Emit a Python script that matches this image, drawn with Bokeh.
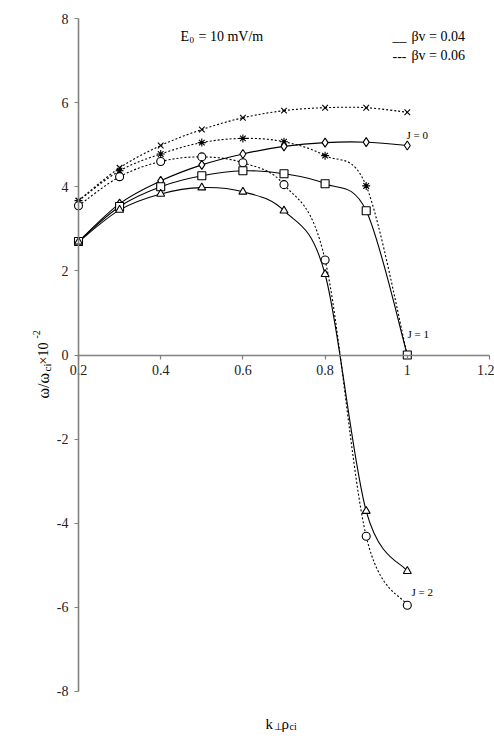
import numpy as np
from bokeh.plotting import figure
from bokeh.models import Label, FixedTicker, ColumnDataSource
from bokeh.embed import file_html
from bokeh.resources import INLINE

# ---------------- data ----------------
k_perp = [0.2, 0.3, 0.4, 0.5, 0.6, 0.7, 0.8, 0.9, 1.0]
# beta_v = 0.04 (solid)
j0_bv004 = [2.70, 3.60, 4.14, 4.52, 4.78, 4.96, 5.05, 5.06, 4.98]
j1_bv004 = [2.70, 3.53, 4.00, 4.26, 4.38, 4.31, 4.07, 3.43, 0.0]
j2_bv004 = [2.69, 3.45, 3.83, 3.98, 3.88, 3.43, 1.92, -3.71, -5.14]
# beta_v = 0.06 (dotted)
j0_bv006 = [3.67, 4.45, 4.98, 5.36, 5.64, 5.81, 5.88, 5.88, 5.77]
j1_bv006 = [3.67, 4.38, 4.78, 5.05, 5.15, 5.07, 4.74, 4.02, 0.0]
j2_bv006 = [3.55, 4.24, 4.60, 4.71, 4.57, 4.05, 2.26, -4.31, -5.95]

x_ticks = [0.2, 0.4, 0.6, 0.8, 1.0, 1.2]
x_tick_labels = ["0.2", "0.4", "0.6", "0.8", "1", "1.2"]
y_ticks = [-8, -6, -4, -2, 0, 2, 4, 6, 8]
y_tick_labels = ["-8", "-6", "-4", "-2", "0", "2", "4", "6", "8"]

FONT = "Liberation Serif"

W, H = 494, 738
SX = 411.0      # px per x unit
SY = 42.06      # px per y unit
X0 = 0.2 - 78 / SX
X1 = X0 + W / SX
Y1 = 354.5 / SY
Y0 = Y1 - H / SY

p = figure(width=W, height=H, x_range=(X0, X1), y_range=(Y0, Y1),
           output_backend="svg", toolbar_location=None, min_border=0)
p.outline_line_color = None
p.grid.grid_line_color = None
p.background_fill_color = "white"
p.border_fill_color = "white"

for ax in (p.xaxis[0], p.yaxis[0]):
    ax.axis_line_color = "#808080"
    ax.axis_line_width = 1.6
    ax.major_tick_line_color = "#808080"
    ax.major_tick_line_width = 1.2
    ax.major_tick_out = 4
    ax.major_tick_in = 0
    ax.minor_tick_line_color = None
    ax.major_label_text_font = FONT
    ax.major_label_text_font_size = "14px"
    ax.major_label_text_color = "#222222"

p.xaxis.fixed_location = 0
p.yaxis.fixed_location = 0.2
p.xaxis.bounds = (0.2, 1.2)
p.yaxis.bounds = (-8, 8)
p.xaxis.ticker = FixedTicker(ticks=x_ticks)
p.yaxis.ticker = FixedTicker(ticks=y_ticks)
p.xaxis.major_label_overrides = {float(t): s for t, s in zip(x_ticks, x_tick_labels)}
p.yaxis.major_label_overrides = {float(t): s for t, s in zip(y_ticks, y_tick_labels)}
p.xaxis.major_label_standoff = 6
p.yaxis.major_label_standoff = 6


def smooth(xs, ys):
    n = len(xs)
    d = dict(x0=[], y0=[], x1=[], y1=[], cx0=[], cy0=[], cx1=[], cy1=[])
    for i in range(n - 1):
        a = max(i - 1, 0)
        b = min(i + 2, n - 1)
        d["x0"].append(xs[i]); d["y0"].append(ys[i])
        d["x1"].append(xs[i + 1]); d["y1"].append(ys[i + 1])
        d["cx0"].append(xs[i] + (xs[i + 1] - xs[a]) / 6)
        d["cy0"].append(ys[i] + (ys[i + 1] - ys[a]) / 6)
        d["cx1"].append(xs[i + 1] - (xs[b] - xs[i]) / 6)
        d["cy1"].append(ys[i + 1] - (ys[b] - ys[i]) / 6)
    return ColumnDataSource(d)


series = [
    (j0_bv006, "x", "2 2"),
    (j1_bv006, "asterisk", "2 2"),
    (j2_bv006, "circle", "2 2"),
    (j0_bv004, "diamond", "solid"),
    (j1_bv004, "square", "solid"),
    (j2_bv004, "triangle", "solid"),
]

for ys, marker, dash in series:
    p.bezier(x0="x0", y0="y0", x1="x1", y1="y1", cx0="cx0", cy0="cy0",
             cx1="cx1", cy1="cy1", source=smooth(k_perp, ys),
             line_color="black", line_width=1.1, line_dash=dash)

sizes = {"x": 8, "asterisk": 8, "circle": 8, "diamond": 9, "square": 8, "triangle": 8}
for ys, marker, dash in series:
    p.scatter(k_perp, ys, marker=marker, size=sizes[marker], line_color="black",
              line_width=1.1, fill_color="white")


def dx(px):
    return X0 + px / SX


def dy(py):
    return Y1 - py / SY


def lab(px, py, text, size, angle=0.0, color="black", align="left"):
    p.add_layout(Label(x=dx(px), y=dy(py), text=text, text_font=FONT,
                       text_font_size=f"{size}px", text_color=color,
                       text_baseline="alphabetic", text_align=align,
                       angle=angle))


# title-like annotation
lab(180, 36, "E", 14)
lab(189, 39, "0", 9)
lab(198, 36, "= 10 mV/m", 14)

# legend texts
lab(392, 36, "__", 14)
lab(411, 36, "βv = 0.04", 14)
lab(392, 55, "---", 14)
lab(411, 55, "βv = 0.06", 14)

# curve labels
lab(406, 134, "J = 0", 11)
lab(407, 333, "J = 1", 11)
lab(411, 591, "J = 2", 11)

# x axis label
lab(265, 723, "k", 15)
lab(273, 726, "⊥", 10)
lab(281, 723, "ρ", 15)
lab(289, 726, "ci", 10)

# y axis label (rotated)
R = np.pi / 2
lab(43, 398, "ω/ω", 16, angle=R)
lab(46, 371, "ci", 11, angle=R)
lab(43, 364, " ×10", 14, angle=R)
lab(36, 338, "-2", 10, angle=R)

open("out.html", "w").write(file_html(p, INLINE))
